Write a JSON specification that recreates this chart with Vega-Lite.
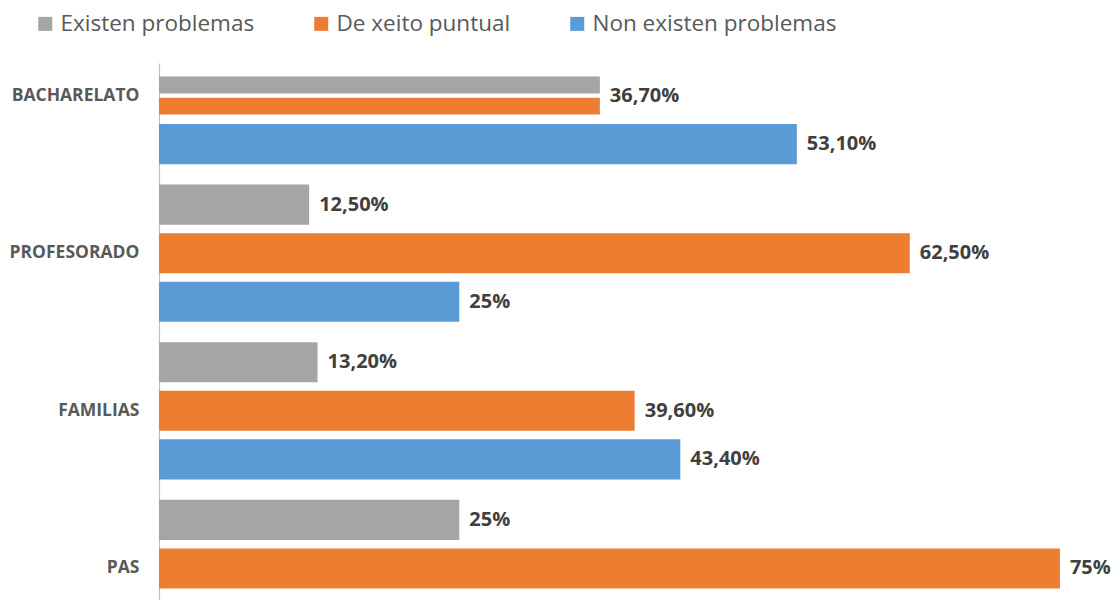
{
  "$schema": "https://vega.github.io/schema/vega-lite/v6.json",
  "width": 961,
  "height": 537,
  "autosize": {"type": "none"},
  "padding": {"left": 159, "top": 63, "right": 0, "bottom": 0},
  "background": "white",
  "config": {"view": {"stroke": null}, "font": "Open Sans"},
  "data": {
    "values": [
      {"cat": "BACHARELATO", "serie": "Existen problemas", "pct": 36.7, "label": ""},
      {"cat": "BACHARELATO", "serie": "De xeito puntual", "pct": 36.7, "label": "36,70%"},
      {"cat": "BACHARELATO", "serie": "Non existen problemas", "pct": 53.1, "label": "53,10%"},
      {"cat": "PROFESORADO", "serie": "Existen problemas", "pct": 12.5, "label": "12,50%"},
      {"cat": "PROFESORADO", "serie": "De xeito puntual", "pct": 62.5, "label": "62,50%"},
      {"cat": "PROFESORADO", "serie": "Non existen problemas", "pct": 25, "label": "25%"},
      {"cat": "FAMILIAS", "serie": "Existen problemas", "pct": 13.2, "label": "13,20%"},
      {"cat": "FAMILIAS", "serie": "De xeito puntual", "pct": 39.6, "label": "39,60%"},
      {"cat": "FAMILIAS", "serie": "Non existen problemas", "pct": 43.4, "label": "43,40%"},
      {"cat": "PAS", "serie": "Existen problemas", "pct": 25, "label": "25%"},
      {"cat": "PAS", "serie": "De xeito puntual", "pct": 75, "label": "75%"}
    ]
  },
  "layer": [
    {
      "transform": [{"filter": "!(datum.cat == 'BACHARELATO' && datum.serie != 'Non existen problemas')"}],
      "mark": {"type": "bar"},
      "encoding": {
        "y": {
          "field": "cat", "type": "nominal",
          "scale": {"domain": ["BACHARELATO", "PROFESORADO", "FAMILIAS", "PAS"], "paddingInner": 0.13, "paddingOuter": 0, "range": [-36, 574]},
          "axis": {"title": null, "ticks": false, "domain": false, "grid": false, "labelFont": "Open Sans", "labelFontWeight": "bold", "labelFontSize": 17.5, "labelColor": "#595959", "labelPadding": 20}
        },
        "yOffset": {
          "field": "serie", "type": "nominal",
          "scale": {"domain": ["Existen problemas", "De xeito puntual", "Non existen problemas"], "paddingInner": 0.175, "paddingOuter": 0}
        },
        "x": {
          "field": "pct", "type": "quantitative",
          "scale": {"domain": [0, 79.6]},
          "axis": {"orient": "top", "title": null, "values": [0], "grid": false, "labels": false, "ticks": true, "tickSize": -537, "tickColor": "#BFBFBF", "tickWidth": 1.2, "tickOpacity": 1, "domain": false}
        },
        "color": {
          "field": "serie", "type": "nominal",
          "scale": {"domain": ["Existen problemas", "De xeito puntual", "Non existen problemas"], "range": ["#A5A5A5", "#ED7D31", "#5B9BD5"]},
          "legend": {"orient": "none", "legendX": -125, "legendY": -50.5, "direction": "horizontal", "title": null, "symbolType": "square", "symbolSize": 196, "symbolStrokeWidth": 0, "labelFontSize": 22.5, "labelLimit": 0, "labelColor": "#595959", "labelFont": "Open Sans", "columnPadding": 55, "labelOffset": 4}
        }
      }
    },
    {
      "transform": [{"filter": "datum.cat == 'BACHARELATO' && datum.serie != 'Non existen problemas'"}],
      "mark": {"type": "bar"},
      "encoding": {
        "y": {"field": "cat", "type": "nominal"},
        "yOffset": {
          "field": "serie", "type": "nominal",
          "scale": {"domain": ["s0", "s1", "Existen problemas", "De xeito puntual", "s4", "s5"], "paddingInner": 0.2, "paddingOuter": 0.35}
        },
        "x": {"field": "pct", "type": "quantitative"},
        "color": {"field": "serie", "type": "nominal"}
      }
    },
    {
      "transform": [{"filter": "datum.label != ''"}],
      "mark": {"type": "text", "align": "left", "baseline": "middle", "dx": 10, "font": "Open Sans", "fontWeight": "bold", "fontSize": 20, "color": "#404040"},
      "encoding": {
        "y": {"field": "cat", "type": "nominal"},
        "yOffset": {
          "field": "serie", "type": "nominal",
          "scale": {"type": "band", "domain": ["Existen problemas", "De xeito puntual", "Non existen problemas"], "paddingInner": 0.175, "paddingOuter": 0}
        },
        "x": {"field": "pct", "type": "quantitative"},
        "text": {"field": "label"}
      }
    }
  ],
  "resolve": {"scale": {"yOffset": "independent"}}
}
